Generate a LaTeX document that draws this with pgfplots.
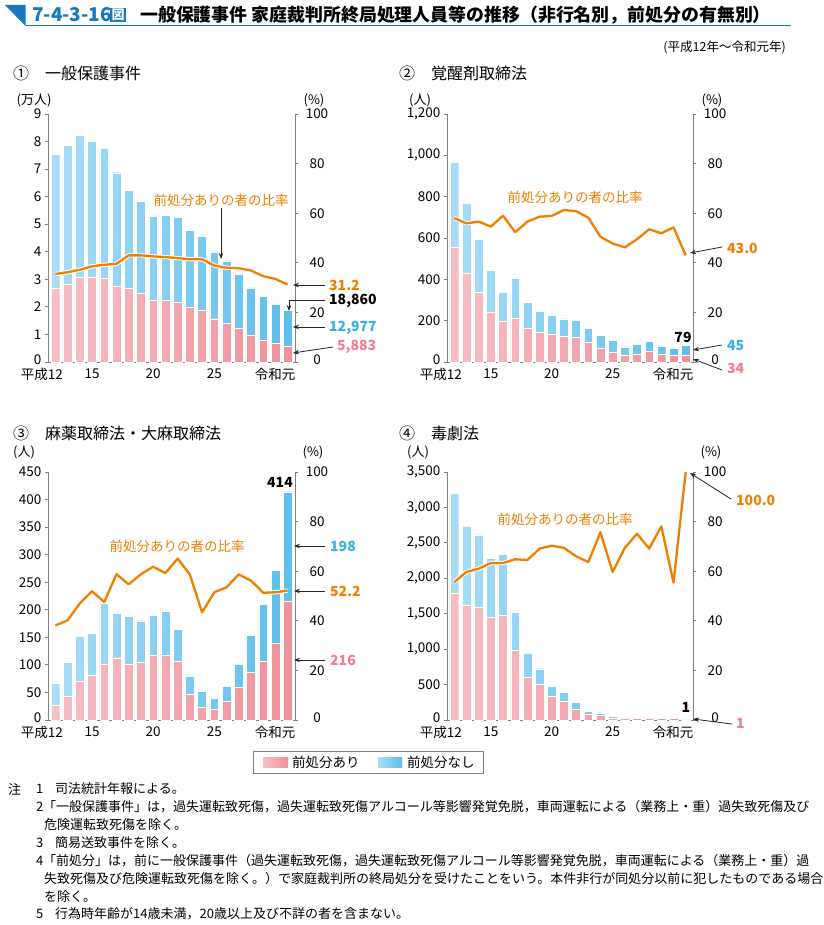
\documentclass[border=0pt]{standalone}
\usepackage{fontspec}
\setmainfont{Noto Sans CJK JP}
\usepackage{pgfplots}
\pgfplotsset{compat=1.18}
\usetikzlibrary{arrows.meta}

\definecolor{pinkL}{HTML}{F7BEC4}
\definecolor{pinkR}{HTML}{EE919B}
\definecolor{blueL}{HTML}{A9DDF6}
\definecolor{blueR}{HTML}{5DBEEC}
\definecolor{lineor}{HTML}{EE7F00}
\definecolor{txtblue}{HTML}{38AFE4}
\definecolor{txtpink}{HTML}{EE7F8C}
\definecolor{titleblue}{HTML}{1479BF}
\definecolor{axisgray}{HTML}{808080}

\newcommand{\fs}[1]{\fontsize{#1}{#1}\selectfont}

\pgfplotsset{
 base/.style={scale only axis, height=248pt, xmin=-0.6, xmax=19.6, ymin=0, clip=false,
   axis line style={draw=axisgray, line width=0.8pt},
   tick style={draw=axisgray, line width=0.8pt},
   major tick length=3pt, tick align=outside,
   tick label style={font=\fs{13.5}},
   /pgf/number format/assume math mode=true},
 barax/.style={base, ybar stacked, bar width=8.8pt, axis y line*=left, axis x line*=bottom,
   xtick={0,3,8,13,19},
   xticklabels={\llap{平成}12, 15, 20, 25, \makebox[0pt][c]{令和元\hspace{25pt}}},
   x tick style={draw=none}},
 lineax/.style={base, ymax=100, axis y line*=right, axis x line=none, xtick=\empty,
   ytick={0,20,...,100},
   yticklabels={\raisebox{4pt}{0},20,40,60,80,100},
   yticklabel style={anchor=center, xshift=19pt}},
 pinkbar/.style={draw=white, line width=0.4pt, left color=pinkL, right color=pinkR},
 bluebar/.style={draw=white, line width=0.4pt, left color=blueL, right color=blueR},
 ratio/.style={lineor, line width=2.3pt, line join=round, mark=none, sharp plot,
   preaction={draw=white, line width=4.2pt}},
}
\tikzset{ann/.style={-{Stealth[length=6pt,width=4.5pt]}, line width=0.8pt, black!85}}

\begin{document}
\begin{tikzpicture}
\begin{scope}[x=1pt,y=-1pt]
\path[use as bounding box, fill=white] (0,0) rectangle (791,925);
\end{scope}

% ---------------- Panel 1 ----------------
\begin{axis}[barax, at={(48pt,-362pt)}, anchor=south west, width=247pt, ymax=9,
  ytick={0,...,9}, yticklabels={\raisebox{4pt}{0},1,2,3,4,5,6,7,8,9}]
\addplot[pinkbar] coordinates {(0,2.68)(1,2.83)(2,3.06)(3,3.09)(4,3.03)(5,2.74)(6,2.68)(7,2.51)(8,2.26)(9,2.24)(10,2.18)(11,1.98)(12,1.89)(13,1.57)(14,1.40)(15,1.21)(16,0.97)(17,0.80)(18,0.69)(19,0.5883)};
\addplot[bluebar] coordinates {(0,4.87)(1,5.04)(2,5.16)(3,4.93)(4,4.72)(5,4.13)(6,3.54)(7,3.34)(8,3.04)(9,3.07)(10,3.08)(11,2.80)(12,2.66)(13,2.41)(14,2.27)(15,1.98)(16,1.72)(17,1.58)(18,1.40)(19,1.2977)};
\end{axis}
\begin{axis}[lineax, at={(48pt,-362pt)}, anchor=south west, width=247pt]
\addplot[ratio] coordinates {(0,35.5)(1,36.2)(2,37.2)(3,38.6)(4,39.2)(5,39.6)(6,43.0)(7,43.0)(8,42.6)(9,42.3)(10,41.9)(11,41.4)(12,41.4)(13,38.9)(14,38.0)(15,37.8)(16,36.9)(17,34.6)(18,33.5)(19,31.2)};
\end{axis}

% ---------------- Panel 2 ----------------
\begin{axis}[barax, at={(447pt,-362pt)}, anchor=south west, width=246pt, ymax=1200,
  ytick={0,200,...,1200}, yticklabels={\raisebox{4pt}{0},200,400,600,800,{1,000},{1,200}}]
\addplot[pinkbar] coordinates {(0,555)(1,429)(2,337)(3,241)(4,199)(5,212)(6,165)(7,142)(8,136)(9,126)(10,121)(11,94)(12,65)(13,49)(14,33)(15,39)(16,50)(17,37)(18,35)(19,34)};
\addplot[bluebar] coordinates {(0,413)(1,340)(2,257)(3,201)(4,139)(5,193)(6,125)(7,104)(8,92)(9,83)(10,81)(11,69)(12,64)(13,56)(14,40)(15,45)(16,49)(17,39)(18,31)(19,45)};
\end{axis}
\begin{axis}[lineax, at={(447pt,-362pt)}, anchor=south west, width=246pt]
\addplot[ratio] coordinates {(0,58.0)(1,55.9)(2,56.6)(3,54.6)(4,59.0)(5,52.3)(6,56.6)(7,58.6)(8,58.9)(9,61.3)(10,60.8)(11,58.2)(12,50.5)(13,47.8)(14,46.2)(15,49.5)(16,53.5)(17,51.9)(18,54.3)(19,43.0)};
\end{axis}

% ---------------- Panel 3 ----------------
\begin{axis}[barax, at={(48pt,-720pt)}, anchor=south west, width=247pt, ymax=450,
  ytick={0,50,...,450}, yticklabels={\raisebox{4pt}{0},50,100,150,200,250,300,350,400,450}]
\addplot[pinkbar] coordinates {(0,26)(1,43)(2,71)(3,81)(4,101)(5,113)(6,102)(7,105)(8,117)(9,117)(10,107)(11,46)(12,23)(13,20)(14,34)(15,59)(16,86)(17,107)(18,139)(19,216)};
\addplot[bluebar] coordinates {(0,40)(1,62)(2,81)(3,76)(4,111)(5,80)(6,87)(7,75)(8,73)(9,81)(10,58)(11,33)(12,29)(13,19)(14,27)(15,42)(16,68)(17,103)(18,133)(19,198)};
\end{axis}
\begin{axis}[lineax, at={(48pt,-720pt)}, anchor=south west, width=247pt]
\addplot[ratio] coordinates {(0,38.1)(1,40.2)(2,47.0)(3,51.9)(4,47.6)(5,58.8)(6,54.7)(7,58.8)(8,61.8)(9,59.2)(10,65.1)(11,58.7)(12,43.4)(13,51.5)(14,53.5)(15,58.7)(16,56.2)(17,51.3)(18,51.5)(19,52.2)};
\end{axis}

% ---------------- Panel 4 ----------------
\begin{axis}[barax, at={(447pt,-720pt)}, anchor=south west, width=246pt, ymax=3500,
  ytick={0,500,...,3500}, yticklabels={\raisebox{4pt}{0},500,{1,000},{1,500},{2,000},{2,500},{3,000},{3,500}}]
\addplot[pinkbar] coordinates {(0,1783)(1,1627)(2,1585)(3,1444)(4,1482)(5,983)(6,602)(7,499)(8,334)(9,268)(10,155)(11,80)(12,66)(13,25)(14,22)(15,20)(16,24)(17,22)(18,20)(19,1)};
\addplot[bluebar] coordinates {(0,1415)(1,1106)(2,1030)(3,837)(4,856)(5,532)(6,334)(7,225)(8,141)(9,127)(10,99)(11,47)(12,28)(13,25)(14,18)(15,15)(16,14)(17,13)(18,18)(19,0)};
\end{axis}
\begin{axis}[lineax, at={(447pt,-720pt)}, anchor=south west, width=246pt]
\addplot[ratio] coordinates {(0,55.6)(1,59.7)(2,61.0)(3,63.3)(4,63.3)(5,64.8)(6,64.5)(7,69.1)(8,70.3)(9,69.4)(10,66.0)(11,63.7)(12,75.7)(13,59.7)(14,69.4)(15,75.1)(16,69.1)(17,78.1)(18,55.4)(19,100.0)};
\end{axis}

% ---------------- Annotations ----------------
\begin{scope}[x=1pt,y=-1pt, every node/.style={inner sep=0pt}]
% title
\fill[titleblue] (5,5) -- (25.5,5) -- (25.5,26) -- cycle;
\draw[titleblue, line width=1.4pt] (25,25.8) -- (791,25.8);
\node[anchor=west, text=titleblue, font=\bfseries\fs{19}] at (32,15) {7-4-3-16};
\node[fill=titleblue, text=white, inner sep=1.2pt, font=\bfseries\fs{13}] at (118,15) {図};
\node[anchor=west, font=\bfseries\fs{17.9}] at (140,15) {一般保護事件 家庭裁判所終局処理人員等の推移（非行名別，前処分の有無別）};
\node[anchor=east, font=\fs{12.5}] at (786,47) {(平成12年～令和元年)};
% panel titles
\node[anchor=west, font=\fs{16}] at (13,73) {①　一般保護事件};
\node[anchor=west, font=\fs{16}] at (399,73) {②　覚醒剤取締法};
\node[anchor=west, font=\fs{16}] at (13,433) {③　麻薬取締法・大麻取締法};
\node[anchor=west, font=\fs{16}] at (399,433) {④　毒劇法};
% unit labels
\node[font=\fs{13}] at (34,100) {(万人)};
\node[font=\fs{13}] at (314,100) {(\%)};
\node[font=\fs{13}] at (420,100) {(人)};
\node[font=\fs{13}] at (712,100) {(\%)};
\node[font=\fs{13}] at (24,452) {(人)};
\node[font=\fs{13}] at (313,452) {(\%)};
\node[font=\fs{13}] at (418,452) {(人)};
\node[font=\fs{13}] at (711,452) {(\%)};
% panel 1
\node[text=lineor, font=\fs{13.5}] at (221,200) {前処分ありの者の比率};
\draw[ann] (221,208) -- (221,259);
\node[anchor=west, text=lineor, font=\bfseries\fs{14}] at (329,285) {31.2};
\draw[ann] (325,285) -- (293,285);
\node[anchor=west, font=\bfseries\fs{14}] at (329,301) {18,860};
\draw[ann] (325,300) -- (289,300) -- (289,311);
\node[anchor=west, text=txtblue, font=\bfseries\fs{14}] at (329,328) {12,977};
\draw[ann] (325,327) -- (293,327);
\node[anchor=west, text=txtpink, font=\bfseries\fs{14}] at (337,347) {5,883};
\draw[ann] (333,347) -- (293,353);
% panel 2
\node[text=lineor, font=\fs{13.5}] at (575,197) {前処分ありの者の比率};
\node[anchor=west, text=lineor, font=\bfseries\fs{14}] at (727,248) {43.0};
\draw[ann] (722,247) -- (690,253);
\node[font=\bfseries\fs{14}] at (683,337) {79};
\node[anchor=west, text=txtblue, font=\bfseries\fs{14}] at (727,346) {45};
\draw[ann] (722,345) -- (693,350);
\node[anchor=west, text=txtpink, font=\bfseries\fs{14}] at (727,368) {34};
\draw[ann] (722,370) -- (693,359);
% panel 3
\node[text=lineor, font=\fs{13.5}] at (177,546) {前処分ありの者の比率};
\node[font=\bfseries\fs{14}] at (280,482) {414};
\node[anchor=west, text=txtblue, font=\bfseries\fs{14}] at (330,546) {198};
\draw[ann] (325,546) -- (294,546);
\node[anchor=west, text=lineor, font=\bfseries\fs{14}] at (330,591) {52.2};
\draw[ann] (325,591) -- (294,591);
\node[anchor=west, text=txtpink, font=\bfseries\fs{14}] at (330,660) {216};
\draw[ann] (325,660) -- (294,660);
% panel 4
\node[text=lineor, font=\fs{13.5}] at (565,519) {前処分ありの者の比率};
\node[anchor=west, text=lineor, font=\bfseries\fs{14}] at (736,500) {100.0};
\draw[ann] (731,499) -- (690,473);
\node[font=\bfseries\fs{14}] at (686,707) {1};
\node[anchor=west, text=txtpink, font=\bfseries\fs{14}] at (736,723) {1};
\draw[ann] (732,724) -- (693,719);
% legend
\draw[axisgray, line width=0.7pt] (253,751) rectangle (483,773);
\shade[left color=pinkL, right color=pinkR] (263,757) rectangle (288,767);
\node[anchor=west, font=\fs{13.5}] at (292,762) {前処分あり};
\shade[left color=blueL, right color=blueR] (378,757) rectangle (402,767);
\node[anchor=west, font=\fs{13.5}] at (407,762) {前処分なし};
% notes
\begin{scope}[every node/.append style={anchor=west, font=\fs{13}}]
\node at (8,789) {注};
\node at (36,789) {1};
\node at (55,789) {司法統計年報による。};
\node at (36,807) {2};
\node at (43,807) {「一般保護事件」は，過失運転致死傷，過失運転致死傷アルコール等影響発覚免脱，車両運転による（業務上・重）過失致死傷及び};
\node at (44,825) {危険運転致死傷を除く。};
\node at (36,843) {3};
\node at (55,843) {簡易送致事件を除く。};
\node at (36,861) {4};
\node at (43,861) {「前処分」は，前に一般保護事件（過失運転致死傷，過失運転致死傷アルコール等影響発覚免脱，車両運転による（業務上・重）過};
\node at (44,879) {失致死傷及び危険運転致死傷を除く。）で家庭裁判所の終局処分を受けたことをいう。本件非行が同処分以前に犯したものである場合};
\node at (44,897) {を除く。};
\node at (36,914) {5};
\node at (55,914) {行為時年齢が14歳未満，20歳以上及び不詳の者を含まない。};
\end{scope}
\end{scope}
\end{tikzpicture}
\end{document}
